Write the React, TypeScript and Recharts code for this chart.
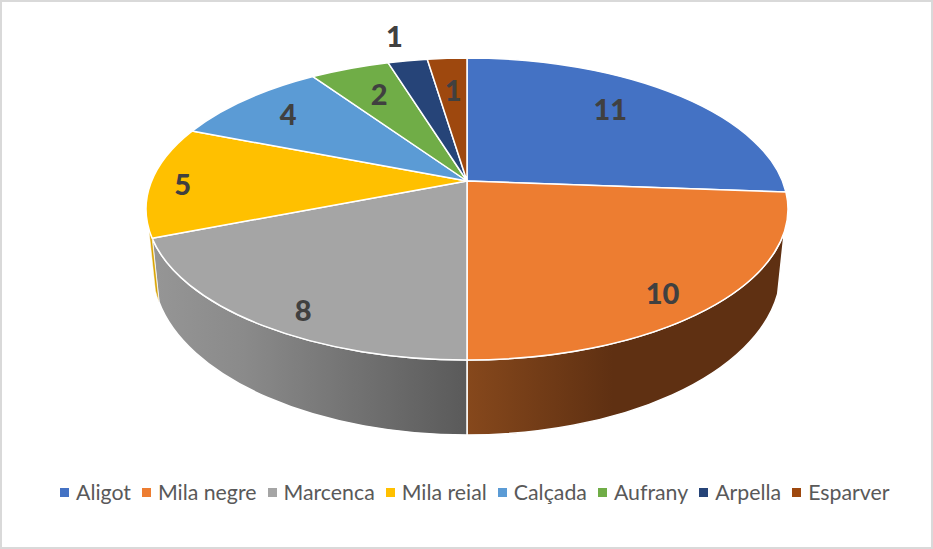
import React from "react";
import { PieChart, Pie, Cell, Legend } from "recharts";

const varieties = ["Aligot", "Mila negre", "Marcenca", "Mila reial", "Calçada", "Aufrany", "Arpella", "Esparver"];
const counts = [11, 10, 8, 5, 4, 2, 1, 1];
const colors = ["#4472C4", "#ED7D31", "#A5A5A5", "#FFC000", "#5B9BD5", "#70AD47", "#264478", "#9E480E"];
const rows = varieties.map((name, i) => ({ name, value: counts[i] }));

// Perspective of the tilted disc
const TILT_Y = 0.4623;
const PERSPECTIVE = 0.1854;
const TOP_RX_RATIO = 321 / 315.4;
const TOP_RY_RATIO = 151 / 315.4;
const BOTTOM_RX_RATIO = 314 / 315.4;
const BOTTOM_RY_RATIO = 165 / 315.4;
const BOTTOM_DY_RATIO = 89 / 315.4;
const WALL_FROM = 109;
const WALL_TO = 252;
const WALL_STRETCH = 1.15;
const LABEL_REACH = 0.8;
const labelShift: [number, number][] = [[-21, -2], [-3, 13], [4, 15], [-32, 2], [-2, -2], [6, 3], [-25, -49], [2, 7]];

const rad = (d: number) => (d * Math.PI) / 180;

function rim(cx: number, cy: number, r: number, t: number) {
  const s = Math.sin(rad(t));
  const c = Math.cos(rad(t));
  const d = 1 + PERSPECTIVE * c;
  return { x: cx + (r * s) / d, y: cy - (r * TILT_Y * c) / d };
}

function base(cx: number, cy: number, r: number, t: number) {
  const p = rad(180 + (t - 180) * WALL_STRETCH);
  return {
    x: cx + r * BOTTOM_RX_RATIO * Math.sin(p),
    y: cy + r * BOTTOM_DY_RATIO - r * BOTTOM_RY_RATIO * Math.cos(p),
  };
}

function DiscSlice(props: any) {
  const { cx, cy, outerRadius: r, startAngle, endAngle, fill, name } = props;
  const t1 = 90 - startAngle;
  const t2 = 90 - endAngle;
  const a = rim(cx, cy, r, t1);
  const b = rim(cx, cy, r, t2);
  const rx = r * TOP_RX_RATIO;
  const ry = r * TOP_RY_RATIO;
  const large = t2 - t1 > 180 ? 1 : 0;
  const top = `M${cx},${cy}L${a.x},${a.y}A${rx},${ry} 0 ${large} 1 ${b.x},${b.y}Z`;

  const w1 = Math.max(t1, WALL_FROM);
  const w2 = Math.min(t2, WALL_TO);
  let wall = null;
  if (w2 > w1) {
    const p1 = rim(cx, cy, r, w1);
    const p2 = rim(cx, cy, r, w2);
    const q1 = base(cx, cy, r, w1);
    const q2 = base(cx, cy, r, w2);
    const brx = r * BOTTOM_RX_RATIO;
    const bry = r * BOTTOM_RY_RATIO;
    const d = `M${p1.x},${p1.y}A${rx},${ry} 0 0 1 ${p2.x},${p2.y}L${q2.x},${q2.y}A${brx},${bry} 0 0 0 ${q1.x},${q1.y}Z`;
    const idx = varieties.indexOf(name);
    wall = <path d={d} fill={`url(#wall${idx})`} stroke="#fff" strokeWidth={idx === 3 ? 0.5 : 1.5} />;
  }
  return (
    <g>
      {wall}
      <path d={top} fill={fill} stroke="#fff" strokeWidth={1.5} strokeLinejoin="round" />
    </g>
  );
}

function SliceLabel(props: any) {
  const { cx, cy, outerRadius: r, midAngle, index, value } = props;
  const p = rim(cx, cy, r, 90 - midAngle);
  const [dx, dy] = labelShift[index];
  return (
    <text
      x={cx + (p.x - cx) * LABEL_REACH + dx}
      y={cy + (p.y - cy) * LABEL_REACH + dy}
      textAnchor="middle"
      dominantBaseline="central"
      fill="#404040"
      fontFamily="Lato"
      fontWeight={900}
      fontSize={29}
    >
      {value}
    </text>
  );
}

function LegendRow({ payload }: any) {
  return (
    <div style={{ display: "flex", alignItems: "center", whiteSpace: "nowrap", gap: 11, fontFamily: "Lato", fontSize: 21.3, color: "#595959" }}>
      {(payload || []).map((e: any) => (
        <span key={e.value} style={{ display: "inline-flex", alignItems: "center", gap: 7 }}>
          <span style={{ width: 9, height: 9, background: e.color, display: "inline-block" }} />
          {e.value}
        </span>
      ))}
    </div>
  );
}

export default function App() {
  return (
    <div style={{ position: "absolute", left: 0, top: 0, width: 933, height: 549, background: "#fff", outline: "2px solid #d9d9d9", outlineOffset: -2 }}>
      <PieChart width={933} height={549} margin={{ top: 0, right: 0, bottom: 0, left: 0 }}>
        <defs>
          <linearGradient id="wall1" gradientUnits="userSpaceOnUse" x1={467} x2={790} y1={0} y2={0}>
            <stop offset="0" stopColor="#86481c" />
            <stop offset="0.45" stopColor="#5f3012" />
            <stop offset="1" stopColor="#5f3012" />
          </linearGradient>
          <linearGradient id="wall2" gradientUnits="userSpaceOnUse" x1={150} x2={467} y1={0} y2={0}>
            <stop offset="0" stopColor="#969696" />
            <stop offset="0.3" stopColor="#8a8a8a" />
            <stop offset="1" stopColor="#5a5a5a" />
          </linearGradient>
          <linearGradient id="wall3" gradientUnits="userSpaceOnUse" x1={140} x2={170} y1={0} y2={0}>
            <stop offset="0" stopColor="#e0a800" />
            <stop offset="1" stopColor="#d09c00" />
          </linearGradient>
        </defs>
        <Pie
          data={rows}
          dataKey="value"
          nameKey="name"
          cx={467}
          cy={181}
          outerRadius={315.4}
          startAngle={90}
          endAngle={-270}
          isAnimationActive={false}
          shape={DiscSlice}
          label={SliceLabel}
          labelLine={false}
        >
          {rows.map((r, i) => (
            <Cell key={r.name} fill={colors[i]} />
          ))}
        </Pie>
        <Legend
          content={<LegendRow />}
          itemSorter={null}
          wrapperStyle={{ position: "absolute", left: 60, top: 479, width: 860, bottom: "auto" }}
        />
      </PieChart>
    </div>
  );
}
